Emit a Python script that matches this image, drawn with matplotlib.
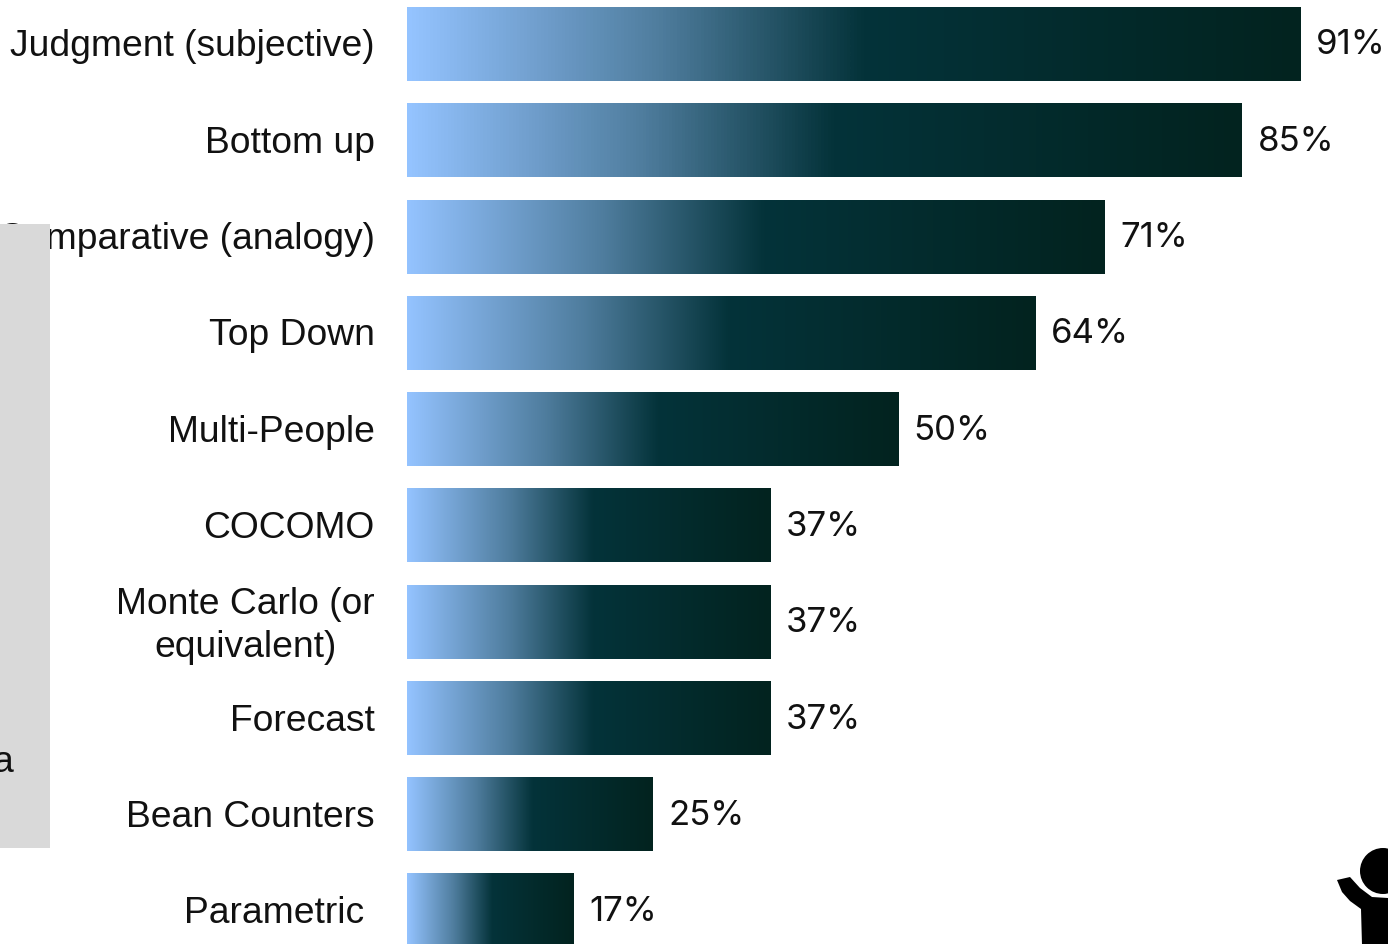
import numpy as np
import matplotlib.pyplot as plt
from matplotlib.colors import LinearSegmentedColormap
from matplotlib.patches import Circle, Polygon, Rectangle
from matplotlib.transforms import ScaledTranslation

categories = ['Judgment (subjective)', 'Bottom up', 'Comparative (analogy)', 'Top Down',
              'Multi-People', 'COCOMO', 'Monte Carlo (or\nequivalent)', 'Forecast',
              'Bean Counters', 'Parametric ']
values = [91, 85, 71, 64, 50, 37, 37, 37, 25, 17]

W, H = 1388, 945
LEFT = 407
PX_PER_PCT = 9.82
ROW_TOP = 45
ROW_STEP = 96.3

plt.rcParams['font.family'] = ['Liberation Sans', 'DejaVu Sans']

fig = plt.figure(figsize=(W / 100, H / 100), dpi=100, facecolor='white')
ax = fig.add_axes([LEFT / W, 0, (W - LEFT) / W, 1])
ax.patch.set_alpha(0)

# blue to dark teal fade used on every bar
fade = LinearSegmentedColormap.from_list('fade', [
    (0.0, '#94c3ff'), (0.28, '#4f7d9e'), (0.51, '#04333a'), (1.0, '#02231f')])
gradient = np.linspace(0, 1, 256).reshape(1, -1)

y = np.arange(len(values))
bars = ax.barh(y, values, height=74 / ROW_STEP, color='none')
for bar in bars:
    x0, y0, w, h = bar.get_x(), bar.get_y(), bar.get_width(), bar.get_height()
    ax.imshow(gradient, cmap=fade, aspect='auto', extent=(x0, x0 + w, y0 + h, y0),
              interpolation='bilinear', zorder=2)

for yi, v in zip(y, values):
    ax.text(v + 1.6, yi + 0.005, f'{v}%', family='Inter', fontsize=25,
            color='#111111', ha='left', va='center')

ax.set_xlim(0, (W - LEFT) / PX_PER_PCT)
ax.set_ylim((H - ROW_TOP) / ROW_STEP, -ROW_TOP / ROW_STEP)
ax.set_xticks([])
ax.set_yticks(y, categories, fontsize=26.8, color='#111111', linespacing=1.29)
ax.tick_params(axis='y', length=0, pad=23.2)
# nudge the category labels up, after tick_params has set their transform
for lab in ax.get_yticklabels():
    lab.set_multialignment('center')
    dy = 5 if '\n' in lab.get_text() else 2
    lab.set_transform(lab.get_transform() + ScaledTranslation(0, dy / 100, fig.dpi_scale_trans))
for s in ax.spines.values():
    s.set_visible(False)

# overlay in pixel units for the side panel and the figure icon
over = fig.add_axes([0, 0, 1, 1])
over.set_xlim(0, W)
over.set_ylim(H, 0)
over.axis('off')
over.add_patch(Rectangle((0, 225), 50, 624, color='#d9d9d9', lw=0))
over.text(-8, 762, 'a', fontsize=26.8, color='#111111', ha='left', va='center')
over.add_patch(Circle((1383, 872), 23, color='black', lw=0))
over.add_patch(Polygon([(1337, 881), (1342, 893), (1350, 902), (1361, 910), (1362, 946),
                        (1388, 946), (1388, 899), (1372, 898), (1360, 889), (1350, 878)],
                       closed=True, color='black', lw=0))

fig.savefig('out.png', dpi=100)
